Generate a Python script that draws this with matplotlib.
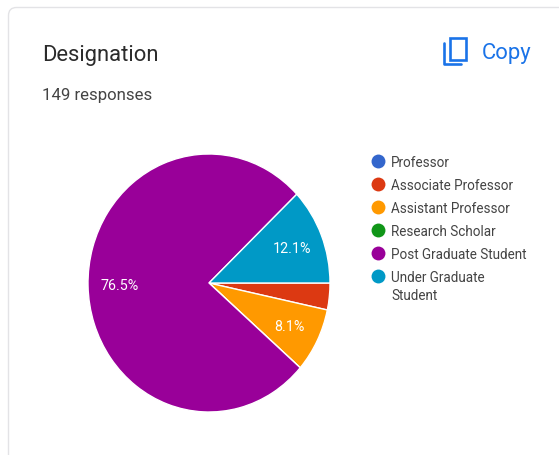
import matplotlib
matplotlib.use("Agg")
import matplotlib.pyplot as plt
from matplotlib.patches import FancyBboxPatch, Rectangle

plt.rcParams['font.family'] = ['Roboto', 'DejaVu Sans']

categories = ["Professor", "Associate Professor", "Assistant Professor",
              "Research Scholar", "Post Graduate Student", "Under Graduate\nStudent"]
values = [0, 5, 12, 0, 114, 18]
colors = ["#3366cc", "#dc3912", "#ff9900", "#109618", "#990099", "#0099c6"]
title = "Designation"
subtitle = "149 responses"
copy_label = "Copy"

W, H = 559, 456
fig = plt.figure(figsize=(W / 100, H / 100), dpi=100, facecolor="white")

# Overlay in pixel coordinates for the card furniture
bg = fig.add_axes([0, 0, 1, 1])
bg.set_xlim(0, W)
bg.set_ylim(H, 0)
bg.axis("off")
bg.add_patch(FancyBboxPatch((8.5, 8.5), 600, 600,
                            boxstyle="round,pad=0,rounding_size=8",
                            fc="white", ec="#e3e3e6", lw=1))
bg.text(42, 55, title, fontsize=15.8, color="#2b2b2b", va="center", ha="left")
bg.text(42, 95.5, subtitle, fontsize=12.1, color="#444444", va="center", ha="left")
bg.text(482, 53.5, copy_label, fontsize=15.8, color="#1a73e8", va="center", ha="left")

# Copy icon
blue = "#1a73e8"
bg.add_patch(Rectangle((449.5, 39), 16, 21.5, fc="none", ec=blue, lw=1.9))
bg.plot([444, 444, 461], [44, 65, 65], color=blue, lw=1.9, solid_capstyle="round",
        solid_joinstyle="round")

# Pie: slightly stretched vertically, as in the reference
x0, x1, y0, y1 = 88, 330, 155, 413
ax = fig.add_axes([x0 / W, 1 - y1 / H, (x1 - x0) / W, (y1 - y0) / H])


def pct_label(p):
    return f"{p:.1f}%" if p >= 5 else ""


wedges, _, autotexts = ax.pie(values, colors=colors, startangle=0, counterclock=False,
                              radius=1, autopct=pct_label, pctdistance=0.74,
                              wedgeprops=dict(edgecolor="white", linewidth=1.0))
for t in autotexts:
    t.set_color("white")
    t.set_fontsize(10.3)
ax.set_aspect("auto")
ax.set_xlim(-1, 1)
ax.set_ylim(-1, 1)

# Legend
row_top = 162
row_step = 23
for i, (name, c) in enumerate(zip(categories, colors)):
    y = row_top + i * row_step
    bg.scatter([378], [y], s=100, color=c, linewidths=0, zorder=3)
    bg.text(391, y - 6, name, fontsize=9.75, color="#444444", va="top", ha="left",
            linespacing=1.38)

fig.savefig("out.png", dpi=100, facecolor="white")
